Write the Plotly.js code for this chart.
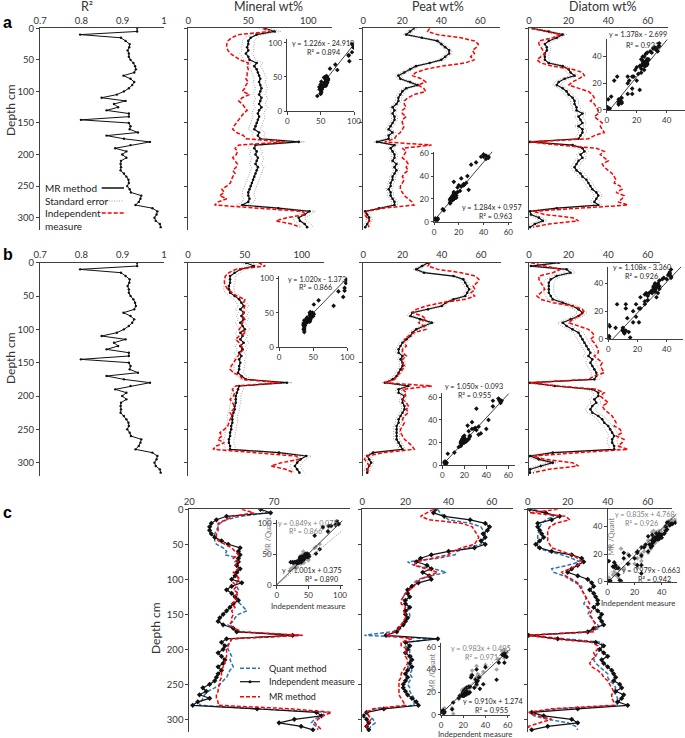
<!DOCTYPE html>
<html><head><meta charset="utf-8">
<script src="https://cdn.plot.ly/plotly-3.0.1.min.js"></script>
<style>html,body{margin:0;padding:0;background:#fff}#chart{width:685px;height:738px}</style>
</head><body><div id="chart"></div>
<script>
// ---------------- data ----------------
const depth = [0,5,10,15,20,25,30,35,40,45,50,55,60,65,70,75,80,85,90,95,100,105,110,115,120,125,130,135,140,145,150,155,160,165,170,175,180,185,190,195,200,205,210,215,220,225,230,235,240,245,250,255,260,265,270,275,280,285,290,295,300,305,310,315];
const rsq = [0.935,0.935,0.797,0.896,0.907,0.917,0.916,0.912,0.915,0.915,0.919,0.926,0.930,0.932,0.928,0.902,0.919,0.928,0.923,0.915,0.903,0.886,0.849,0.907,0.879,0.889,0.861,0.915,0.915,0.799,0.915,0.919,0.917,0.937,0.861,0.903,0.966,0.919,0.882,0.909,0.899,0.909,0.896,0.895,0.896,0.895,0.903,0.909,0.914,0.915,0.911,0.917,0.920,0.945,0.943,0.939,0.931,0.972,0.984,0.982,0.977,0.980,0.990,0.992];

const mineralIndep = [62,68,42,36,33,32,32,33,35,39,43,50,49,50,49,49,48,50,48,47,45,51,45,42,45,47,49,46,44,42,40,38,37,40,46,48,81,42,39,41,40,37,39,41,40,37,39,37,36,35,32,28,30,26,32,25,22,60,95,98,82,73,86,93];
const peatIndep = [34,33,38,50,57,59,58,56,57,55,57,52,40,32,27,25,30,32,28,31,32,26,23,21,21,22,20,20,22,20,20,21,20,19,17,16,11,35,20,22,21,20,22,23,22,23,21,20,21,20,19,19,20,21,23,25,26,10,2,0.5,2,3,2,3];
const diatomIndep = [1,9,16,12,5,5,6,7,8,6,4,6,12,22,27,28,25,22,20,25,30,32,33,31,33,34,35,35,33,35,37,36,37,38,33,30,0.5,15,34,38,36,38,40,37,38,40,42,43,44,43,46,47,44,48,47,45,50,25,2,8,22,25,10,2];

const mineralMrA = [64,72,57,52,50,50,49,50,48,50,51,57,55,57,58,59,60,59,60,61,60,59,61,60,59,61,59,58,59,58,57,56,55,59,58,60,92,56,55,57,56,58,57,56,58,57,56,55,54,53,52,51,50,50,51,50,45,75,101,97,92,93,97,99];
const peatMrA = [26,24,22,30,38,40,42,44,44,42,40,34,27,24,21,18,19,24,28,22,20,19,18,18,17,15,16,15,16,16,15,14,13,15,13,13,7,16,14,15,16,16,15,17,16,17,16,15,15,14,14,13,14,14,15,16,16,8,1,2,3,3,2,1];
const diatomMrA = [2,10,17,14,10,8,9,9,8,8,8,10,17,20,21,23,18,15,14,17,19,20,22,23,23,24,24,27,25,26,27,25,27,27,26,25,0.5,22,27,28,26,27,25,24,23,24,26,27,29,30,31,32,34,35,34,33,35,14,0.5,1,5,7,3,0.5];

const mineralMrB = [51,58,46,41,37,37,37,36,36,37,41,45,47,49,46,49,47,49,46,48,50,46,48,46,49,46,48,45,47,45,46,45,45,44,47,51,87,45,44,43,42,42,42,41,41,40,39,39,39,38,38,37,37,36,36,37,37,80,104,99,96,94,96,98];
const peatMrB = [33,30,27,31,46,51,52,53,54,53,52,46,42,40,33,25,24,29,35,31,27,25,24,22,20,19,18,18,20,19,20,20,19,18,17,15,11,23,18,18,21,20,20,21,21,20,19,18,18,17,17,17,17,17,18,19,20,5,2,3,4,3,2,2];
const diatomMrB = [15,1,19,21,14,11,10,10,10,10,11,12,17,22,25,27,25,21,17,19,22,25,26,27,28,29,30,31,30,32,31,32,33,34,34,33,0.5,13,32,35,35,33,34,32,31,32,35,37,38,40,41,42,43,42,42,43,43,12,0.5,5,12,6,0.5,0.5];

const mineralQuant = [62,66,50,42,38,37,36,35,35,35,36,40,42,41,50,47,48,48,49,48,49,48,48,49,48,49,48,50,52,54,49,47,46,43,46,48,86,45,44,42,43,44,45,44,45,46,44,43,42,40,38,35,31,29,28,27,26,60,101,98,94,92,95,96];
const peatQuant = [35,36,38,40,50,55,56,57,57,56,55,49,44,43,35,21,24,33,39,32,26,24,23,21,20,19,19,20,22,21,22,22,20,19,17,14,1,33,20,20,22,22,23,22,22,21,23,22,23,22,21,22,22,23,24,24,24,6,2,3,5,6,4,3];
const diatomQuant = [3,9,13,9,7,6,6,5,5,5,5,5,10,17,22,26,20,12,13,18,21,24,27,27,28,29,29,28,30,31,30,32,33,35,36,30,0.5,20,37,37,36,35,34,33,34,36,38,40,40,41,43,44,43,44,45,44,45,15,1,3,10,20,24,25];

// standard error half-widths (wt%)
const seA = {mineral:5, peat:1.5, diatom:2};
const seB = {mineral:4.5, peat:1.5, diatom:2.5};

// regression fits: [slope, intercept, R2]
const fitA = {mineral:[1.226,-24.910,0.894], peat:[1.284,0.957,0.963], diatom:[1.378,-2.699,0.921]};
const fitB = {mineral:[1.020,-1.373,0.866], peat:[1.050,-0.093,0.955], diatom:[1.108,-3.360,0.926]};
const fitCQuant = {mineral:[0.849,0.075,0.866], peat:[0.983,0.495,0.971], diatom:[0.835,4.768,0.926]};
const fitCMr = {mineral:[1.001,0.375,0.890], peat:[0.910,1.274,0.955], diatom:[0.979,-0.663,0.942]};

const depthTicks = [0,50,100,150,200,250,300];

// ---------------- helpers ----------------
const W=685,H=738;
const fx = p => p/W, fy = p => 1 - p/H;
const FONT = 'Lato, "Open Sans", Arial, sans-serif';
const AX = '#404040';
const layout = {width:W,height:H,margin:{l:0,r:0,t:0,b:0},paper_bgcolor:'#fff',plot_bgcolor:'rgba(0,0,0,0)',
  showlegend:false,font:{family:FONT,color:'#333',size:10},annotations:[],shapes:[]};
const traces = [];
let nAx = 0;
const xN = k => k===1?'xaxis':'xaxis'+k, yN = k => k===1?'yaxis':'yaxis'+k;
const xI = k => k===1?'x':'x'+k, yI = k => k===1?'y':'y'+k;

function mainAxes(x0,x1,top,bot,xr,yr,xticks,xtext,ylabels){
  const k = ++nAx;
  const xa = {domain:[fx(x0),fx(x1)],range:xr,side:'top',anchor:yI(k),showline:true,linecolor:AX,linewidth:1,
    ticks:'',tickvals:xticks,showgrid:false,zeroline:false,
    tickfont:{size:9.5,color:'#333'}};
  if (xtext) xa.ticktext = xtext;
  layout[xN(k)] = xa;
  layout[yN(k)] = {domain:[fy(bot),fy(top)],range:yr,anchor:xI(k),showline:true,linecolor:AX,linewidth:1,
    ticks:'outside',ticklen:3,tickcolor:AX,tickvals:depthTicks,showticklabels:!!ylabels,showgrid:false,zeroline:false,
    tickfont:{size:9.5,color:'#333'}};
  return k;
}
function insetAxes(x0,top,xr,yr,xpu,ypu,xt,yt){
  const k = ++nAx;
  const x1 = x0 + (xr[1]-xr[0])*xpu, bot = top + (yr[1]-yr[0])*ypu;
  layout[xN(k)] = {domain:[fx(x0),fx(x1)],range:xr,anchor:yI(k),showline:true,linecolor:AX,linewidth:1,
    ticks:'outside',ticklen:2.5,tickcolor:AX,tickvals:xt,showgrid:false,zeroline:false,tickfont:{size:8,color:'#333'}};
  layout[yN(k)] = {domain:[fy(bot),fy(top)],range:yr,anchor:xI(k),showline:true,linecolor:AX,linewidth:1,
    ticks:'outside',ticklen:2.5,tickcolor:AX,tickvals:yt,showgrid:false,zeroline:false,tickfont:{size:8,color:'#333'}};
  return k;
}
function tr(k,o){traces.push(Object.assign({type:'scatter',xaxis:xI(k),yaxis:yI(k),hoverinfo:'skip',cliponaxis:true},o));}
function ann(text,x,y,o){layout.annotations.push(Object.assign({text,x:fx(x),y:fy(y),xref:'paper',yref:'paper',showarrow:false,
  xanchor:'center',yanchor:'middle',font:{family:FONT,size:10,color:'#333'}},o||{}));}
function seg(x0,x1,y,line){layout.shapes.push({type:'line',xref:'paper',yref:'paper',x0:fx(x0),x1:fx(x1),y0:fy(y),y1:fy(y),line});}
function eqText(f){return 'y = '+f[0].toFixed(3)+'x '+(f[1]<0?'- ':'+ ')+Math.abs(f[1]).toFixed(3);}
function fitLine(k,f,xs,xr,yr,style){
  const xmin = Math.max(Math.min.apply(null,xs), xr[0], (yr[0]-f[1])/f[0]);
  const xmax = Math.min(xr[1], (yr[1]-f[1])/f[0]);
  tr(k,{mode:'lines',x:[xmin,xmax],y:[f[0]*xmin+f[1],f[0]*xmax+f[1]],line:style});
}

const RED='#FF0000', GREY='#A0A0A0', BLUE='#2E75B6';
const lineMR = {color:'#111',width:1.2};
const mkMR = {symbol:'circle',size:2.6,color:'#111'};
const EQF = 7.2;

// ---------------- rows a & b ----------------
const rows = [
  {top:28.3,bot:230.3,mr:{mineral:mineralMrA,peat:peatMrA,diatom:diatomMrA},se:seA,fit:fitA,
   cols:{mineral:[188.3,1.2,120],peat:[363.3,1.95,70],diatom:[529,1.98,70]},
   ins:{mineral:[287.3,39.3,[0,100],[0,105],0.667,0.683,[0,50,100],[0,50,100]],
        peat:[434,151.6,[0,63],[0,61.5],1.238,1.14,[0,20,40,60],[0,20,40,60]],
        diatom:[606.7,39.3,[0,52],[0,53],1.5,1.333,[0,20,40],[0,20,40]]},
   eq:{mineral:[323,43.3,323,52.7],peat:[492,207.3,495.7,216],diatom:[638.3,35,642.7,45]}},
  {top:262.7,bot:476,mr:{mineral:mineralMrB,peat:peatMrB,diatom:diatomMrB},se:seB,fit:fitB,
   cols:{mineral:[188,1.137,120],peat:[363.3,1.96,70],diatom:[529,1.98,66]},
   ins:{mineral:[279,276.2,[0,100],[0,103],0.683,0.69,[0,50,100],[0,50,100]],
        peat:[442.3,393.4,[0,66],[0,63.5],1.1,1.128,[0,20,40,60],[0,20,40,60]],
        diatom:[608.3,266.7,[0,51],[0,52],1.46,1.39,[0,20,40],[0,20,40]]},
   eq:{mineral:[317,279.3,315,287.8],peat:[474,386.7,474,395],diatom:[641.7,267.5,641,276]}}
];
const indep = {mineral:mineralIndep,peat:peatIndep,diatom:diatomIndep};
const xt = {mineral:[0,50,100],peat:[0,20,40,60],diatom:[0,20,40,60]};

rows.forEach(r=>{
  const k = mainAxes(40,164,r.top,r.bot,[0.7,1.0],[320,0],[0.7,0.8,0.9,1],['0.7','0.8','0.9','1'],true);
  tr(k,{mode:'lines+markers',x:rsq,y:depth,line:{color:'#111',width:1},marker:{size:2.4,color:'#111'}});
  ['mineral','peat','diatom'].forEach(c=>{
    const cc = r.cols[c];
    const kk = mainAxes(cc[0],cc[0]+cc[2]*cc[1],r.top,r.bot,[0,cc[2]],[320,0],xt[c],null,false);
    const mr = r.mr[c], se = r.se[c];
    tr(kk,{mode:'lines',x:mr.map(v=>v-se),y:depth,line:{color:GREY,width:1,dash:'1px,1.5px'}});
    tr(kk,{mode:'lines',x:mr.map(v=>v+se),y:depth,line:{color:GREY,width:1,dash:'1px,1.5px'}});
    tr(kk,{mode:'lines+markers',x:mr,y:depth,line:lineMR,marker:mkMR});
    tr(kk,{mode:'lines',x:indep[c],y:depth,line:{color:RED,width:1.5,dash:'4px,2px'}});
    // inset: MR (x) vs independent (y)
    const s = r.ins[c];
    const ki = insetAxes(s[0],s[1],s[2],s[3],s[4],s[5],s[6],s[7]);
    tr(ki,{mode:'markers',x:mr,y:indep[c],marker:{symbol:'diamond',size:3.6,color:'#111'}});
    fitLine(ki,r.fit[c],mr,s[2],s[3],{color:'#111',width:0.8});
    const e = r.eq[c];
    ann(eqText(r.fit[c]),e[0],e[1],{font:{family:FONT,size:EQF,color:'#222'}});
    ann('R² = '+r.fit[c][2].toFixed(3),e[2],e[3],{font:{family:FONT,size:EQF,color:'#222'}});
  });
});

// ---------------- row c ----------------
const cTop = 509.3, cBot = 509.3+318*0.7;
const colsC = {mineral:[189.3,1.694,[20,115],[20,70,120]],peat:[362.3,2.157,[0,70],[0,20,40,60]],diatom:[527.7,2.0,[0,72],[0,20,40,60]]};
const quant = {mineral:mineralQuant,peat:peatQuant,diatom:diatomQuant};
const mrC = {mineral:mineralMrB,peat:peatMrB,diatom:diatomMrB};
const insC = {mineral:[276.7,519.6,[0,104],[0,106],0.633,0.617,[0,50,100],[0,50,100]],
              peat:[441,643.3,[0,62],[0,63],1.112,1.138,[0,20,40,60],[0,20,40,60]],
              diatom:[607.5,508.8,[0,51],[0,53],1.355,1.375,[0,20,40],[0,20,40]]};
const eqC = {mineral:[308.3,523.3,305,531.7,311.7,570.7,321.7,579.3],
             peat:[481,648,481,657,493,701.7,491.7,710],
             diatom:[645,514.3,641.7,523.3,651,570,654,579]};
const labC = {mineral:[268,536,308,606],peat:[432.3,672,475,734],diatom:[611.7,536.7,638.3,602.5]};

['mineral','peat','diatom'].forEach(c=>{
  const cc = colsC[c];
  const k = mainAxes(cc[0],cc[0]+(cc[2][1]-cc[2][0])*cc[1],cTop,cBot,cc[2],[318,0],cc[3],null,c==='mineral');
  tr(k,{mode:'lines',x:quant[c],y:depth,line:{color:BLUE,width:1.5,dash:'4px,2px'}});
  tr(k,{mode:'lines+markers',x:indep[c],y:depth,line:{color:'#111',width:1.2},marker:{symbol:'diamond',size:4,color:'#111'}});
  tr(k,{mode:'lines',x:mrC[c],y:depth,line:{color:RED,width:1.5,dash:'4px,2px'}});
  const s = insC[c];
  const ki = insetAxes(s[0],s[1],s[2],s[3],s[4],s[5],s[6],s[7]);
  tr(ki,{mode:'markers',x:indep[c],y:quant[c],marker:{symbol:'diamond',size:3.6,color:'#A6A6A6'}});
  tr(ki,{mode:'markers',x:indep[c],y:mrC[c],marker:{symbol:'diamond',size:3.6,color:'#111'}});
  fitLine(ki,fitCQuant[c],[0],s[2],s[3],{color:'#808080',width:1,dash:'1px,1.5px'});
  fitLine(ki,fitCMr[c],[0],s[2],s[3],{color:'#111',width:0.8});
  const e = eqC[c];
  const g = {family:FONT,size:EQF,color:'#808080'}, b = {family:FONT,size:EQF,color:'#222'};
  ann(eqText(fitCQuant[c]),e[0],e[1],{font:g});
  ann('R² = '+fitCQuant[c][2].toFixed(3),e[2],e[3],{font:g});
  ann(eqText(fitCMr[c]),e[4],e[5],{font:b});
  ann('R² = '+fitCMr[c][2].toFixed(3),e[6],e[7],{font:b});
  const l = labC[c];
  ann('MR /Quant',l[0],l[1],{textangle:-90,font:{family:FONT,size:7.5,color:'#808080'}});
  ann('Independent measure',l[2],l[3],{font:{family:FONT,size:7.8,color:'#333'},borderpad:0});
});

// ---------------- titles, labels, legends ----------------
const TF = {family:FONT,size:12.5,color:'#333'};
ann('R²',87,7,{font:TF,borderpad:0});
ann('Mineral wt%',268,7,{font:TF,borderpad:0});
ann('Peat wt%',438,7,{font:TF,borderpad:0});
ann('Diatom wt%',603,7,{font:TF,borderpad:0});
ann('<b>a</b>',8,22,{font:{family:'Arial, sans-serif',size:16,color:'#000'}});
ann('<b>b</b>',8,255,{font:{family:'Arial, sans-serif',size:16,color:'#000'}});
ann('<b>c</b>',8,512,{font:{family:'Arial, sans-serif',size:16,color:'#000'}});
ann('Depth cm',10,110,{textangle:-90,font:{family:FONT,size:12,color:'#333'}});
ann('Depth cm',10,358,{textangle:-90,font:{family:FONT,size:12,color:'#333'}});
ann('Depth cm',155,628,{textangle:-90,font:{family:FONT,size:12,color:'#333'}});

// legend row a
const lf = {family:FONT,size:10,color:'#222'};
ann('MR method',43,188,{xanchor:'left',font:lf}); seg(101.7,124,188,{color:'#111',width:1.5});
ann('Standard error',43,201,{xanchor:'left',font:lf}); seg(104,124,201,{color:GREY,width:1,dash:'1px,1.5px'});
ann('Independent',43,213,{xanchor:'left',font:lf}); seg(101.7,124,213,{color:RED,width:1.5,dash:'4px,2px'});
ann('measure',43,226,{xanchor:'left',font:lf});
// legend row c
const lc = {family:FONT,size:9,color:'#222'};
seg(240,260,668.3,{color:BLUE,width:1.5,dash:'4px,2px'}); ann('Quant method',266.7,668.3,{xanchor:'left',font:lc});
seg(240,260,681.7,{color:'#111',width:1.2}); ann('Independent measure',266.7,681.7,{xanchor:'left',font:lc});
layout.shapes.push({type:'circle',xref:'paper',yref:'paper',x0:fx(248.5),x1:fx(251.5),y0:fy(683.2),y1:fy(680.2),fillcolor:'#111',line:{width:0}});
seg(240,260,696.7,{color:RED,width:1.5,dash:'4px,2px'}); ann('MR method',266.7,696.7,{xanchor:'left',font:lc});

Plotly.newPlot('chart',traces,layout,{displayModeBar:false,staticPlot:true});
</script></body></html>
